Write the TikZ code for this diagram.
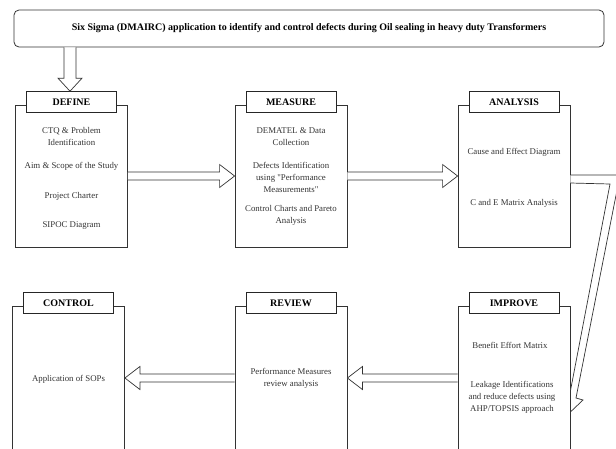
\documentclass[tikz,border=0pt]{standalone}
\usepackage{fontspec}
\setmainfont{Liberation Serif}
\usetikzlibrary{calc}

% open block arrow: tail, tip, shaft half width, head half width, head length
\newcommand{\blockarrow}[5]{%
	\coordinate (hb) at ($(#2)!#5!(#1)$);
	\draw[arrowline] ($(#1)!#3!90:(#2)$) -- ($(hb)!#3!90:(#2)$) -- ($(hb)!#4!90:(#2)$) -- (#2)
		-- ($(hb)!#4!-90:(#2)$) -- ($(hb)!#3!-90:(#2)$) -- ($(#1)!#3!-90:(#2)$);
}

\begin{document}
\begin{tikzpicture}[x=1pt, y=-1pt,
	every node/.style={font=\fontsize{8.8}{12}\selectfont, text=black!80},
	phase/.style={draw=black!80, line width=0.8pt, minimum width=112pt, minimum height=142pt, inner sep=0pt},
	phaselabel/.style={draw=black!85, line width=0.8pt, fill=white, minimum width=90pt, minimum height=21pt, inner sep=0pt, font=\fontsize{10}{12}\selectfont\bfseries, text=black},
	item/.style={align=center, inner sep=0pt},
	arrowline/.style={draw=black!80, line width=0.7pt, fill=white, line join=miter}]
	\useasboundingbox (0,0) rectangle (616,448);
	\clip (0,0) rectangle (616,448);

	\node[draw=black!80, line width=0.8pt, rounded corners=5pt, minimum width=590pt, minimum height=37pt, font=\fontsize{10}{12}\selectfont\bfseries, text=black] (title) at (309,28.5) {Six Sigma (DMAIRC) application to identify and control defects during Oil sealing in heavy duty Transformers};

	% phases
	\node[phase] (define) at (71.5,176) {};
	\node[phase] (measure) at (291,176) {};
	\node[phase] (analysis) at (514,176) {};
	\node[phase, minimum height=143pt] (control) at (68.5,378) {};
	\node[phase, minimum height=143pt] (review) at (291,378) {};
	\node[phase, minimum height=143pt] (improve) at (514,378) {};

	\node[phaselabel] (deflabel) at ([yshift=2.5pt]define.north) {DEFINE};
	\node[phaselabel] (measlabel) at ([yshift=2.5pt]measure.north) {MEASURE};
	\node[phaselabel] (analabel) at ([yshift=2.5pt]analysis.north) {ANALYSIS};
	\node[phaselabel] (conlabel) at ([yshift=3pt]control.north) {CONTROL};
	\node[phaselabel] (revlabel) at ([yshift=3pt]review.north) {REVIEW};
	\node[phaselabel] (implabel) at ([yshift=3pt]improve.north) {IMPROVE};

	% contents
	\node[item] (ctq) at (71.5,136) {CTQ \& Problem\\Identification};
	\node[item] (aim) at (71.5,166) {Aim \& Scope of the Study};
	\node[item] (charter) at (71.5,196) {Project Charter};
	\node[item] (sipoc) at (71.5,226) {SIPOC Diagram};
	\node[item] (dematel) at (291,136.5) {DEMATEL \& Data\\Collection};
	\node[item] (defects) at (291,177) {Defects Identification\\using \textquotedbl Performance\\Measurements\textquotedbl};
	\node[item] (charts) at (291,215) {Control Charts and Pareto\\Analysis};
	\node[item] (cause) at (514,152) {Cause and Effect Diagram};
	\node[item] (cematrix) at (514,203) {C and E Matrix Analysis};
	\node[item] (sops) at (68.5,379) {Application of SOPs};
	\node[item] (perfreview) at (291,378) {Performance Measures\\review analysis};
	\node[item] (benefit) at (510,345) {Benefit Effort Matrix};
	\node[item] (leakage) at (512,397) {Leakage Identifications\\and reduce defects using\\AHP/TOPSIS approach};

	% arrows
	\coordinate (downtail) at (title.south -| 70,0);
	\coordinate (downtip) at (deflabel.north -| 70,0);
	\blockarrow{downtail}{downtip}{6pt}{12pt}{13pt}
	\blockarrow{define.east}{measure.west}{4pt}{11.5pt}{15pt}
	\blockarrow{measure.east}{analysis.west}{4pt}{11.5pt}{15pt}
	\blockarrow{improve.west}{review.east}{4pt}{11.5pt}{15pt}
	\blockarrow{review.west}{control.east}{4pt}{11.5pt}{15pt}
	\draw[arrowline] (analysis.east |- 0,175) -- (620,175) -- (576,398) -- (583,400) -- (improve.east |- 0,412)
		-- (improve.east |- 0,391) -- (610,184) -- (analysis.east |- 0,183);

\end{tikzpicture}
\end{document}
